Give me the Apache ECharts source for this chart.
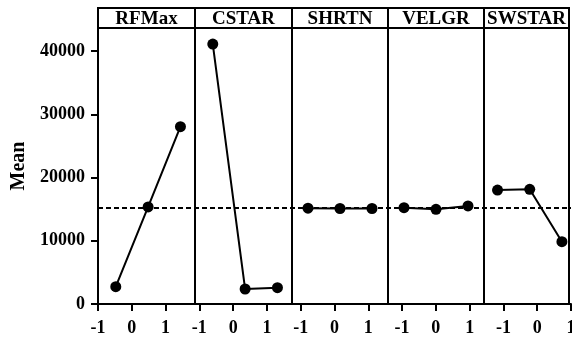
<!DOCTYPE html>
<html><head><meta charset="utf-8">
<script src="https://cdn.jsdelivr.net/npm/echarts@6/dist/echarts.min.js"></script>
<style>html,body{margin:0;padding:0;background:#fff}#c{width:572px;height:337px}</style>
</head><body><div id="c"></div>
<script>
// ---- data ----
const factors = ['RFMax', 'CSTAR', 'SHRTN', 'VELGR', 'SWSTAR'];
const levels = [-1, 0, 1];
const rfmax  = [2740, 15340, 28030];
const cstar  = [41100, 2370, 2580];
const shrtn  = [15150, 15100, 15100];
const velgr  = [15230, 14970, 15500];
const swstar = [18020, 18130, 9850];
const grandMean = 15180;
const xTickLabels = ['-1','0','1','-1','0','1','-1','0','1','-1','0','1','-1','0','1'];
const yTicks = [0, 10000, 20000, 30000, 40000];
const means = [rfmax, cstar, shrtn, velgr, swstar];

// ---- layout ----
const FONT = "'Liberation Serif', 'DejaVu Serif', serif";
const L = 98, TOP = 28, BOT = 304, HTOP = 8, RIGHT = 571;
const widths = [97, 97, 96, 96, 85];
const xRanges = [[-1.55,1.45],[-1.55,1.45],[-1.5,1.5],[-1.5,1.5],[-1.42,1.22]];
const YMAX = 43640;
const lefts = []; { let x = L; widths.forEach(w => { lefts.push(x); x += w; }); }

const grids = [{ left: L, top: TOP, width: RIGHT - L, height: BOT - TOP, show: false,
  outerBoundsMode: 'none' }];
const xAxes = [{
  gridIndex: 0, type: 'value', min: 0, max: xTickLabels.length - 1, interval: 1,
  axisLine: { show: true, lineStyle: { color: '#000', width: 2 } },
  axisTick: { show: true, inside: false, length: 7, lineStyle: { color: '#000', width: 2 } },
  axisLabel: { color: '#000', fontFamily: FONT, fontWeight: 'bold', fontSize: 18, margin: 15,
    formatter: v => xTickLabels[Math.round(v)] },
  splitLine: { show: false }
}];
const yAxes = [{
  gridIndex: 0, type: 'value', min: 0, max: YMAX,
  name: 'Mean', nameLocation: 'middle', nameGap: 69, nameRotate: 90,
  nameTextStyle: { color: '#000', fontFamily: FONT, fontWeight: 'bold', fontSize: 20 },
  axisLine: { show: true, lineStyle: { color: '#000', width: 2 } },
  axisTick: { show: true, inside: false, length: 7, customValues: yTicks, lineStyle: { color: '#000', width: 2 } },
  axisLabel: { color: '#000', fontFamily: FONT, fontWeight: 'bold', fontSize: 18, margin: 13,
    customValues: yTicks, formatter: v => String(v) },
  splitLine: { show: false }
}];
const series = [{
  type: 'line', xAxisIndex: 0, yAxisIndex: 0, data: [], z: 1,
  markLine: { silent: true, symbol: 'none', label: { show: false },
    lineStyle: { color: '#000', width: 2, type: [5, 3] },
    data: [{ yAxis: grandMean }] }
}];
const graphics = [];

factors.forEach((f, i) => {
  const gi = grids.length;
  grids.push({ left: lefts[i], top: TOP, width: widths[i], height: BOT - TOP, show: true,
    borderColor: '#000', borderWidth: 2, backgroundColor: 'transparent', outerBoundsMode: 'none' });
  xAxes.push({ gridIndex: gi, type: 'value', min: xRanges[i][0], max: xRanges[i][1], show: false });
  yAxes.push({ gridIndex: gi, type: 'value', min: 0, max: YMAX, show: false });
  series.push({
    type: 'line', xAxisIndex: gi, yAxisIndex: gi, z: 3,
    data: levels.map((lv, j) => [lv, means[i][j]]),
    symbol: 'circle', symbolSize: 11, showSymbol: true,
    itemStyle: { color: '#000' }, lineStyle: { color: '#000', width: 2 },
    animation: false
  });
  const hi = grids.length;
  grids.push({ left: lefts[i], top: HTOP, width: widths[i], height: TOP - HTOP, show: true,
    borderColor: '#000', borderWidth: 2, backgroundColor: 'transparent', outerBoundsMode: 'none' });
  xAxes.push({ gridIndex: hi, type: 'value', min: 0, max: 1, show: false });
  yAxes.push({ gridIndex: hi, type: 'value', min: 0, max: 1, show: false });
  graphics.push({ type: 'text', x: lefts[i] + widths[i] / 2, y: (HTOP + TOP) / 2 + 1,
    style: { text: f, fill: '#000', font: "bold 19px " + FONT, textAlign: 'center', textVerticalAlign: 'middle' } });
});

const chart = echarts.init(document.getElementById('c'), null, { renderer: 'canvas' });
chart.setOption({
  animation: false,
  backgroundColor: '#fff',
  grid: grids, xAxis: xAxes, yAxis: yAxes, series: series, graphic: graphics
});
</script>
</body></html>
